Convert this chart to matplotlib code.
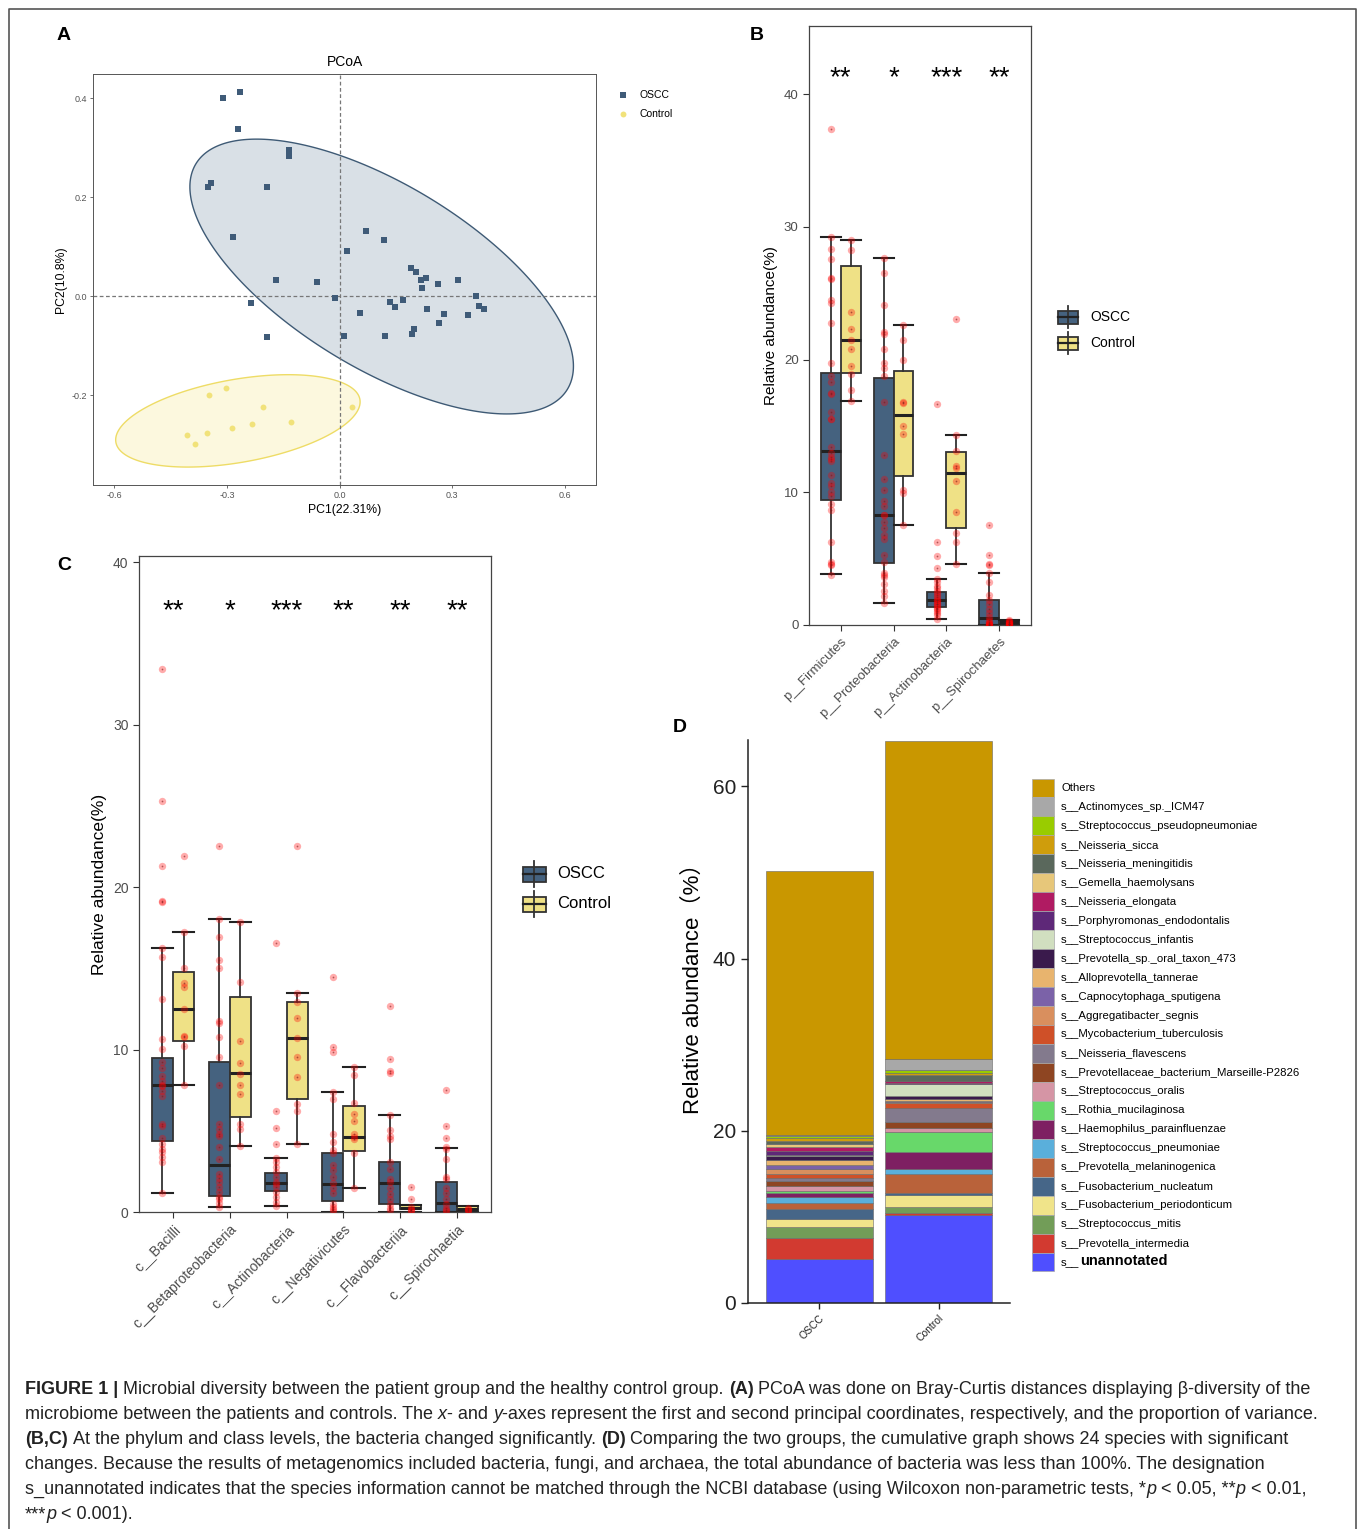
import numpy as np
import matplotlib.pyplot as plt
from matplotlib.patches import Rectangle

W, H = 1358, 1529
plt.rcParams['font.family'] = ['Liberation Sans', 'DejaVu Sans', 'Noto Sans CJK SC']

# ---------------- panel A: PCoA ----------------
oscc_pc1 = [-0.310, -0.265, -0.271, -0.134, -0.134, -0.343, -0.350, -0.194, -0.283, 0.071,
            0.117, 0.019, -0.169, -0.061, 0.191, 0.204, 0.217, 0.229, 0.220, 0.261,
            0.315, 0.364, 0.372, 0.385, -0.012, -0.235, 0.054, 0.134, 0.147, 0.170,
            0.234, 0.278, 0.343, 0.265, 0.199, 0.193, 0.011, 0.120, -0.194]
oscc_pc2 = [0.401, 0.412, 0.338, 0.295, 0.284, 0.229, 0.221, 0.221, 0.120, 0.131,
            0.114, 0.092, 0.033, 0.029, 0.057, 0.050, 0.033, 0.038, 0.017, 0.024,
            0.032, 0.001, -0.020, -0.026, -0.004, -0.013, -0.033, -0.011, -0.022, -0.007,
            -0.026, -0.035, -0.037, -0.053, -0.065, -0.076, -0.081, -0.081, -0.082]
ctrl_pc1 = [-0.348, -0.302, -0.203, 0.032, -0.130, -0.233, -0.286, -0.354, -0.407, -0.385]
ctrl_pc2 = [-0.199, -0.186, -0.224, -0.224, -0.253, -0.257, -0.265, -0.275, -0.280, -0.298]
# ellipse centre and shape matrix
oscc_ell_center = [0.112, 0.040]
oscc_ell_shape = [[0.261, -0.0925], [-0.0925, 0.0770]]
ctrl_ell_center = [-0.271, -0.2515]
ctrl_ell_shape = [[0.1060, 0.0125], [0.0125, 0.0087]]

# ---------------- panel B: phylum ----------------
phyla = ['p__Firmicutes', 'p__Proteobacteria', 'p__Actinobacteria', 'p__Spirochaetes']
phy_sig = ['**', '*', '***', '**']
# (whislo, q1, median, q3, whishi)
phy_oscc_box = [(3.84, 9.39, 13.09, 18.98, 29.27), (1.65, 4.71, 8.31, 18.64, 27.66),
                (0.47, 1.35, 1.85, 2.49, 3.50), (0.0, 0.0, 0.5, 1.85, 3.94)]
phy_ctrl_box = [(16.89, 18.98, 21.5, 27.05, 29.04), (7.54, 11.24, 15.81, 19.18, 22.58),
                (4.61, 7.34, 11.44, 13.02, 14.30), (0.0, 0.05, 0.2, 0.35, 0.40)]
phy_oscc_pts = [
    [37.35, 29.27, 28.33, 27.56, 26.14, 26.1, 24.53, 24.26, 22.78, 19.75, 18.74, 18.34, 17.46, 17.4,
     16.05, 15.55, 15.5, 13.43, 13.0, 12.69, 12.5, 12.35, 11.34, 10.73, 10.5, 9.99, 9.7, 9.15, 8.65,
     6.29, 4.78, 4.6, 4.54, 3.77],
    [27.66, 26.5, 24.1, 22.1, 21.9, 20.8, 19.75, 19.4, 18.74, 16.8, 12.85, 11.0, 10.16, 9.32, 9.0,
     8.31, 8.3, 7.8, 7.3, 6.8, 6.46, 5.28, 4.78, 3.94, 3.77, 3.6, 3.1, 2.6, 2.19, 1.65],
    [16.66, 6.29, 5.18, 4.27, 3.5, 3.26, 2.93, 2.8, 2.59, 2.4, 2.25, 2.1, 1.92, 1.85, 1.75, 1.6,
     1.58, 1.4, 1.31, 1.2, 1.08, 0.9, 0.74, 0.47],
    [7.54, 5.28, 4.61, 4.54, 3.94, 3.26, 2.25, 1.92, 1.58, 1.24, 0.91, 0.57, 0.4, 0.24, 0.15, 0.1,
     0.05, 0.02, 0.0, 0.0]]
phy_ctrl_pts = [
    [29.04, 28.3, 23.6, 22.3, 21.5, 20.8, 19.5, 18.9, 17.7, 16.9],
    [22.6, 21.5, 20.0, 16.8, 16.7, 14.97, 14.37, 10.16, 9.93, 7.54],
    [23.08, 14.3, 13.1, 12.0, 11.8, 10.83, 8.55, 6.9, 6.22, 4.61],
    [0.35, 0.3, 0.25, 0.2, 0.15, 0.1, 0.1, 0.05, 0.05, 0.02]]

# ---------------- panel C: class ----------------
classes = ['c__Bacilli', 'c__Betaproteobacteria', 'c__Actinobacteria', 'c__Negativicutes',
           'c__Flavobacteriia', 'c__Spirochaetia']
cls_sig = ['**', '*', '***', '**', '**', '**']
cls_oscc_box = [(1.15, 4.40, 7.84, 9.46, 16.28), (0.31, 0.99, 2.88, 9.21, 18.05),
                (0.37, 1.30, 1.77, 2.39, 3.32), (0.0, 0.68, 1.71, 3.66, 7.38),
                (0.0, 0.47, 1.80, 3.07, 5.95), (0.0, 0.0, 0.53, 1.86, 3.97)]
cls_ctrl_box = [(7.84, 10.54, 12.50, 14.79, 17.27), (4.09, 5.83, 8.53, 13.27, 17.89),
                (4.16, 6.98, 10.73, 12.96, 13.49), (1.46, 3.78, 4.62, 6.54, 8.93),
                (0.0, 0.16, 0.25, 0.43, 0.43), (0.0, 0.10, 0.19, 0.37, 0.40)]
cls_oscc_pts = [
    [33.43, 25.33, 21.3, 19.13, 19.07, 16.28, 15.72, 13.12, 10.64, 10.02, 9.21, 8.84, 8.37, 8.06,
     7.84, 7.75, 7.44, 7.13, 5.43, 5.27, 4.56, 4.19, 3.88, 3.72, 3.41, 3.10, 1.15],
    [22.54, 18.05, 16.96, 15.5, 15.04, 11.78, 11.63, 10.76, 9.52, 7.84, 5.43, 5.12, 4.81, 4.71,
     4.03, 3.26, 2.33, 2.08, 1.86, 1.55, 1.24, 0.93, 0.78, 0.53, 0.31],
    [16.59, 6.2, 5.18, 4.19, 3.32, 3.10, 2.79, 2.48, 2.17, 1.86, 1.7, 1.55, 1.24, 0.93, 0.62, 0.37],
    [14.45, 10.14, 9.83, 7.38, 6.98, 4.81, 4.34, 3.81, 3.63, 2.88, 2.57, 2.17, 1.77, 1.46, 1.15,
     0.47, 0.31, 0.16, 0.05],
    [12.68, 9.4, 8.68, 8.53, 5.95, 5.05, 4.65, 4.50, 3.10, 2.64, 2.02, 1.86, 1.46, 1.09, 0.78,
     0.47, 0.22, 0.1],
    [7.5, 5.27, 4.56, 4.03, 3.88, 3.26, 2.17, 2.02, 1.46, 1.15, 0.78, 0.47, 0.22, 0.1, 0.05]]
cls_ctrl_pts = [
    [21.92, 17.27, 15.04, 14.11, 13.86, 12.5, 10.85, 10.76, 10.23, 7.84],
    [17.89, 14.17, 10.54, 9.15, 8.5, 7.84, 7.29, 5.43, 5.12, 4.09],
    [22.54, 13.49, 12.96, 11.94, 10.7, 9.52, 8.31, 6.67, 6.2, 4.16],
    [8.93, 8.43, 6.73, 6.05, 5.58, 4.81, 4.6, 4.50, 3.63, 1.46],
    [1.55, 0.78, 0.31, 0.16, 0.1, 0.05],
    [0.22, 0.16, 0.1, 0.05]]

# ---------------- panel D: species stacked bars ----------------
groups = ['OSCC', 'Control']
species = ['Others', 's__Actinomyces_sp._ICM47', 's__Streptococcus_pseudopneumoniae',
           's__Neisseria_sicca', 's__Neisseria_meningitidis', 's__Gemella_haemolysans',
           's__Neisseria_elongata', 's__Porphyromonas_endodontalis', 's__Streptococcus_infantis',
           's__Prevotella_sp._oral_taxon_473', 's__Alloprevotella_tannerae',
           's__Capnocytophaga_sputigena', 's__Aggregatibacter_segnis',
           's__Mycobacterium_tuberculosis', 's__Neisseria_flavescens',
           's__Prevotellaceae_bacterium_Marseille-P2826', 's__Streptococcus_oralis',
           's__Rothia_mucilaginosa', 's__Haemophilus_parainfluenzae', 's__Streptococcus_pneumoniae',
           's__Prevotella_melaninogenica', 's__Fusobacterium_nucleatum',
           's__Fusobacterium_periodonticum', 's__Streptococcus_mitis', 's__Prevotella_intermedia',
           's__unannotated']
species_colors = ['#C99700', '#A8A8A8', '#99CC00', '#CF9D0C', '#5A685C', '#E7C77A', '#B01B62',
                  '#5E2878', '#D1DFC0', '#3A1A4C', '#E8B46E', '#7B62A8', '#D98F5E', '#CF5028',
                  '#837A8D', '#8E4522', '#D595A5', '#68D86A', '#7E2062', '#5AAFDB', '#B9623A',
                  '#466688', '#F0E48A', '#729D58', '#D23A30', '#4F4FFF']
oscc_abund = [30.7, 0.12, 0.23, 0.35, 0.27, 0.39, 0.47, 0.39, 0.15, 0.47, 0.54, 0.54, 0.54, 0.47,
              0.31, 0.58, 0.58, 0.31, 0.39, 0.78, 0.70, 1.16, 0.85, 1.32, 2.48, 5.05]
ctrl_abund = [36.9, 1.32, 0.39, 0.15, 0.70, 0.08, 0.15, 0.19, 1.36, 0.39, 0.15, 0.15, 0.15, 0.54,
              1.71, 0.66, 0.47, 2.25, 1.98, 0.62, 2.25, 0.23, 1.40, 0.70, 0.23, 10.16]

OSCC_COL = '#45627F'
CTRL_COL = '#EFE186'

fig = plt.figure(figsize=(W / 100, H / 100), dpi=100)


def px_axes(x0, y0, x1, y1):
    return fig.add_axes([x0 / W, 1 - y1 / H, (x1 - x0) / W, (y1 - y0) / H])


# overlay in pixel coordinates for labels, legends and caption
ov = fig.add_axes([0, 0, 1, 1])
ov.set_xlim(0, W)
ov.set_ylim(H, 0)
ov.axis('off')
ov.patch.set_visible(False)

ov.plot([8.5, 8.5, 1355.5, 1355.5], [H + 5, 8.5, 8.5, H + 5], color='#555555', lw=1.2)
for lab, x, y in [('A', 64, 36), ('B', 757, 36), ('C', 64, 566), ('D', 680, 728)]:
    ov.text(x, y, lab, fontsize=14, fontweight='bold', ha='center', va='center')

# ---- A ----
axA = px_axes(93, 74, 596, 485)
t = np.linspace(0, 2 * np.pi, 300)
for c, s, fc, ec in [(oscc_ell_center, oscc_ell_shape, '#D9E0E6', '#3E5A75'),
                     (ctrl_ell_center, ctrl_ell_shape, '#FCF8DE', '#EEDC66')]:
    L = np.linalg.cholesky(np.array(s))
    pts = np.array(c)[:, None] + L @ np.vstack([np.cos(t), np.sin(t)])
    axA.fill(pts[0], pts[1], facecolor=fc, edgecolor=ec, lw=1.0, zorder=1)
axA.axhline(0, color='#777777', ls=(0, (3, 2)), lw=0.9, zorder=2)
axA.axvline(0, color='#777777', ls=(0, (3, 2)), lw=0.9, zorder=2)
axA.scatter(oscc_pc1, oscc_pc2, marker='s', s=16, color='#3F5B78', zorder=3, lw=0)
axA.scatter(ctrl_pc1, ctrl_pc2, marker='o', s=18, color='#F1E27A', zorder=3, lw=0)
axA.set_xlim(-0.657, 0.683)
axA.set_ylim(-0.381, 0.449)
axA.set_xticks([-0.6, -0.3, 0, 0.3, 0.6], ['-0.6', '-0.3', '0.0', '0.3', '0.6'])
axA.set_yticks([-0.2, 0, 0.2, 0.4], ['-0.2', '0.0', '0.2', '0.4'])
axA.tick_params(labelsize=6.5, colors='#555555', length=2.5, width=0.6, pad=2)
for sp in axA.spines.values():
    sp.set_color('#555555')
    sp.set_linewidth(0.7)
axA.set_xlabel('PC1(22.31%)', fontsize=8.8, labelpad=3)
axA.set_ylabel('PC2(10.8%)', fontsize=8.8, labelpad=3)
axA.set_title('PCoA', fontsize=10, pad=6)
ov.scatter([623], [95], marker='s', s=16, color='#3F5B78', lw=0)
ov.scatter([623], [114], marker='o', s=18, color='#F1E27A', lw=0)
ov.text(639, 95, 'OSCC', fontsize=7.5, va='center')
ov.text(639, 114, 'Control', fontsize=7.5, va='center')


# ---- B and C ----
def box_panel(ax, cats, sig, o_box, c_box, o_pts, c_pts, sig_y, ymax, tick_fs, lab_fs):
    off = 0.1875
    for i in range(len(cats)):
        for pos, b, col, pts in [(i + 1 - off, o_box[i], OSCC_COL, o_pts[i]),
                                 (i + 1 + off, c_box[i], CTRL_COL, c_pts[i])]:
            st = dict(whislo=b[0], q1=b[1], med=b[2], q3=b[3], whishi=b[4], fliers=[])
            ax.bxp([st], positions=[pos], widths=0.375, capwidths=0.375, patch_artist=True,
                   showfliers=False,
                   boxprops=dict(facecolor=col, edgecolor='#333333', linewidth=1.3),
                   medianprops=dict(color='#222222', linewidth=2.2),
                   whiskerprops=dict(color='#333333', linewidth=1.3),
                   capprops=dict(color='#222222', linewidth=1.5))
            ax.scatter(np.full(len(pts), pos), pts, s=28, color='red', alpha=0.33, lw=0, zorder=4)
            ax.scatter(np.full(len(pts), pos), pts, s=1.5, color='#7A1A1A', alpha=0.6, lw=0, zorder=5)
        ax.text(i + 1, sig_y, sig[i], ha='center', va='center', fontsize=20)
    ax.set_xlim(0.4, len(cats) + 0.6)
    ax.set_ylim(0, ymax)
    ax.set_xticks(range(1, len(cats) + 1))
    ax.set_xticklabels(cats, rotation=45, ha='right', rotation_mode='anchor')
    ax.set_yticks([0, 10, 20, 30, 40])
    ax.tick_params(labelsize=tick_fs, colors='#333333', labelcolor='#4D4D4D', length=4, width=0.8)
    for sp in ax.spines.values():
        sp.set_color('#444444')
        sp.set_linewidth(0.9)
    ax.set_ylabel('Relative abundance(%)', fontsize=lab_fs)


axB = px_axes(809, 26, 1031, 625)
box_panel(axB, phyla, phy_sig, phy_oscc_box, phy_ctrl_box, phy_oscc_pts, phy_ctrl_pts,
          41.25, 45.15, 9.5, 11)

axC = px_axes(139, 556, 491, 1212)
box_panel(axC, classes, cls_sig, cls_oscc_box, cls_ctrl_box, cls_oscc_pts, cls_ctrl_pts,
          36.97, 40.4, 10, 12.5)


def box_key(x, y, w, h, col):
    ov.plot([x, x], [y - h * 0.85, y + h * 0.85], color='#333333', lw=1.3)
    ov.add_patch(Rectangle((x - w / 2, y - h / 2), w, h, facecolor=col, edgecolor='#333333', lw=1.3))
    ov.plot([x - w / 2, x + w / 2], [y, y], color='#222222', lw=1.6)


box_key(1068, 317, 20, 13, OSCC_COL)
box_key(1068, 343, 20, 13, CTRL_COL)
ov.text(1090, 317, 'OSCC', fontsize=10, va='center')
ov.text(1090, 343, 'Control', fontsize=10, va='center')
box_key(534, 874, 23, 15, OSCC_COL)
box_key(534, 904, 23, 15, CTRL_COL)
ov.text(557, 874, 'OSCC', fontsize=12, va='center')
ov.text(557, 904, 'Control', fontsize=12, va='center')

# ---- D ----
axD = px_axes(748, 740, 1010, 1302.7)
bottoms = np.zeros(len(groups))
for name, col, vo, vc in reversed(list(zip(species, species_colors, oscc_abund, ctrl_abund))):
    vals = np.array([vo, vc])
    axD.bar([1, 2], vals, bottom=bottoms, width=0.9, color=col, edgecolor='#666666', lw=0.4)
    bottoms += vals
axD.set_xlim(0.4, 2.6)
axD.set_ylim(0, 65.4)
axD.set_xticks([1, 2])
axD.set_xticklabels(groups, rotation=45, ha='right', rotation_mode='anchor', fontsize=7.5)
axD.set_yticks([0, 20, 40, 60])
axD.tick_params(axis='y', labelsize=15, length=5, width=1, colors='#222222')
axD.tick_params(axis='x', length=4, width=1, colors='#222222')
for k in ['top', 'right']:
    axD.spines[k].set_visible(False)
for k in ['left', 'bottom']:
    axD.spines[k].set_color('#222222')
    axD.spines[k].set_linewidth(1.1)
axD.set_ylabel('Relative abundance（%）', fontsize=16)
axD.yaxis.set_label_coords(-0.168, 0.568)

# D legend
row_h = 18.96
for i, (name, col) in enumerate(zip(species, species_colors)):
    yc = 788 + i * row_h
    ov.add_patch(Rectangle((1032, yc - row_h / 2), 22, row_h, facecolor=col,
                           edgecolor='#AAAAAA', lw=0.5))
    if name == 's__unannotated':
        ov.text(1061, yc, 's__', fontsize=8.2, va='center')
        ov.text(1080, yc - 1, 'unannotated', fontsize=10.5, fontweight='bold', va='center')
    else:
        ov.text(1061, yc, name, fontsize=8.2, va='center')

# ---- caption ----
caption = [
    [('FIGURE 1 |', 'b'), (' Microbial diversity between the patient group and the healthy control group. ', ''),
     ('(A)', 'b'), (' PCoA was done on Bray-Curtis distances displaying β-diversity of the', '')],
    [('microbiome between the patients and controls. The ', ''), ('x', 'i'), ('- and ', ''), ('y', 'i'),
     ('-axes represent the first and second principal coordinates, respectively, and the proportion of variance.', '')],
    [('(B,C)', 'b'), (' At the phylum and class levels, the bacteria changed significantly. ', ''),
     ('(D)', 'b'), (' Comparing the two groups, the cumulative graph shows 24 species with significant', '')],
    [('changes. Because the results of metagenomics included bacteria, fungi, and archaea, the total abundance of bacteria was less than 100%. The designation', '')],
    [('s_unannotated indicates that the species information cannot be matched through the NCBI database (using Wilcoxon non-parametric tests, *', ''),
     ('p', 'i'), (' < 0.05, **', ''), ('p', 'i'), (' < 0.01,', '')],
    [('***', ''), ('p', 'i'), (' < 0.001).', '')],
]
renderer = fig.canvas.get_renderer()
cap_fs = 13.0


def text_w(s, style):
    tt = ov.text(0, 0, s, fontsize=cap_fs, fontweight='bold' if 'b' in style else 'normal',
                 fontstyle='italic' if 'i' in style else 'normal')
    w = tt.get_window_extent(renderer).width
    tt.remove()
    return w


space_w = text_w('x x', '') - text_w('xx', '')
for li, line in enumerate(caption):
    x = 25
    y = 1394 + li * 25
    for s, style in line:
        core = s.strip(' ')
        lead = len(s) - len(s.lstrip(' '))
        trail = len(s) - len(s.rstrip(' '))
        x += lead * space_w
        ov.text(x, y, core, fontsize=cap_fs, va='baseline', color='#222222',
                fontweight='bold' if 'b' in style else 'normal',
                fontstyle='italic' if 'i' in style else 'normal')
        x += text_w(core, style) + trail * space_w

fig.savefig('out.png', dpi=100)
